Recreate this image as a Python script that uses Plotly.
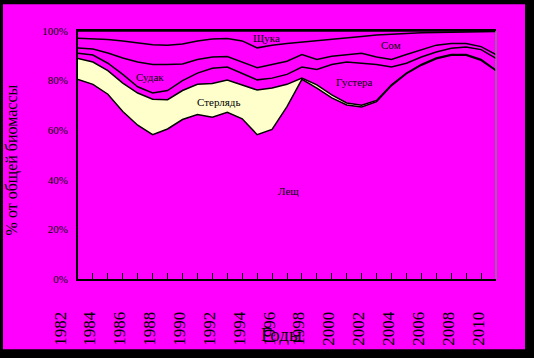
import plotly.graph_objects as go

years = list(range(1982, 2011))
tick_years = list(range(1982, 2011, 2))
tick_labels = [str(y) for y in tick_years]
y_ticks = [0, 20, 40, 60, 80, 100]
y_tick_labels = ["0%", "20%", "40%", "60%", "80%", "100%"]

lesch = [80.5, 78.5, 74.5, 67.5, 62.0, 58.2, 60.5, 64.3, 66.3, 65.2, 67.2, 64.6, 58.2, 60.3, 69.5,
         80.5, 77.0, 73.0, 70.2, 69.4, 71.5, 78.0, 82.8, 86.2, 88.8, 90.2, 90.2, 88.2, 84.0]
sterlyad = [8.4, 9.0, 9.5, 11.5, 13.0, 14.3, 11.8, 11.7, 12.2, 13.6, 13.0, 13.6, 18.0, 16.7, 9.0,
            0.5, 1.3, 1.2, 0.8, 0.7, 0.5, 0.3, 0.2, 0.3, 0.3, 0.3, 0.3, 0.3, 0.2]
gustera = [2.1, 2.8, 3.0, 3.5, 2.5, 2.5, 3.7, 4.0, 4.5, 6.2, 5.3, 4.8, 4.1, 4.0, 4.0,
           4.5, 6.2, 12.3, 16.5, 16.9, 14.5, 7.2, 4.0, 3.0, 2.4, 2.5, 3.0, 4.0, 4.8]
sudak = [2.1, 2.4, 4.1, 6.6, 10.0, 11.5, 10.5, 6.7, 5.5, 4.5, 4.2, 4.3, 4.9, 5.5, 5.3,
         5.0, 4.0, 3.3, 3.0, 4.0, 3.0, 3.0, 3.5, 3.0, 2.8, 2.0, 1.5, 1.2, 1.5]
som = [4.0, 4.2, 5.5, 6.9, 7.7, 8.0, 7.8, 8.1, 7.5, 7.3, 7.3, 8.7, 8.0, 7.8, 7.2,
       5.0, 7.5, 6.9, 6.7, 6.8, 8.9, 10.3, 8.7, 6.8, 5.1, 4.5, 4.7, 6.1, 9.3]
schuka = [2.9, 3.1, 3.4, 4.0, 4.8, 5.5, 5.7, 5.2, 4.0, 3.2, 3.0, 4.0, 6.8, 5.7, 5.0,
          4.5, 4.0, 3.3, 2.8, 2.2, 1.6, 1.2, 0.8, 0.7, 0.6, 0.5, 0.3, 0.2, 0.2]

series = [("Лещ", lesch, "#FF00FF"), ("Стерлядь", sterlyad, "#FFFFCC"),
          ("Густера", gustera, "#FF00FF"), ("Судак", sudak, "#FF00FF"),
          ("Сом", som, "#FF00FF"), ("Щука", schuka, "#FF00FF")]

MAG = "#FF00FF"
SERIF = "Liberation Serif, Times New Roman, serif"

fig = go.Figure()
for name, vals, col in series:
    fig.add_trace(go.Scatter(x=years, y=vals, name=name, mode="lines", stackgroup="one",
                             line=dict(color="black", width=1.5), fillcolor=col,
                             hoverinfo="skip"))

# plot area in pixels: x 78..496, y 31..282
L, R, T, B = 78, 496, 31, 282
W, H = 534, 358
def px(x):
    return (x - L) / (R - L)
def py(y):
    return (B - y) / (B - T)

shapes = [
    dict(type="rect", xref="paper", yref="paper", x0=px(3), x1=px(525), y0=py(353), y1=py(4),
         fillcolor=MAG, line=dict(width=0), layer="below"),
    dict(type="line", xref="paper", yref="paper", x0=1, x1=1, y0=0, y1=1,
         line=dict(color="#808080", width=1.5)),
]

labels = [("Щука", 266, 38), ("Сом", 391, 45), ("Судак", 150, 78), ("Стерлядь", 218, 103),
          ("Густера", 354, 83), ("Лещ", 288, 193)]
annotations = [dict(text=t, x=px(x), y=py(y), xref="paper", yref="paper", showarrow=False,
                    xanchor="center", yanchor="middle",
                    font=dict(family=SERIF, size=11, color="black")) for t, x, y in labels]
annotations.append(dict(text="Годы", x=px(281), y=py(338), xref="paper", yref="paper",
                        showarrow=False, xanchor="center", yanchor="middle",
                        font=dict(family=SERIF, size=19, color="black")))
annotations.append(dict(text="% от общей биомассы", x=px(12), y=py(162), xref="paper", yref="paper",
                        showarrow=False, textangle=-90, xanchor="center", yanchor="middle",
                        font=dict(family=SERIF, size=16, color="black")))

fig.update_layout(
    width=W, height=H,
    margin=dict(l=L, r=W - R, t=T, b=H - B, pad=0),
    paper_bgcolor="black", plot_bgcolor=MAG,
    showlegend=False,
    shapes=shapes, annotations=annotations,
    xaxis=dict(range=[1982, 2010], tickvals=tick_years, ticktext=tick_labels,
               tickangle=-90, ticks="inside", ticklen=6, tickcolor="black", tickwidth=1,
               showgrid=False, zeroline=False, showline=True, linecolor="black", linewidth=2,
               mirror=True, ticklabelstandoff=24, ticklabelshift=-18,
               minor=dict(dtick=1, tick0=1982, ticks="inside", ticklen=6, tickcolor="black", showgrid=False),
               tickfont=dict(family=SERIF, size=17, color="black")),
    yaxis=dict(range=[0, 100], tickvals=y_ticks, ticktext=y_tick_labels,
               showgrid=True, gridcolor="black", gridwidth=1, zeroline=False,
               showline=True, linecolor="black", linewidth=2, ticks="",
               ticklabelstandoff=6,
               tickfont=dict(family=SERIF, size=11, color="black")),
)

fig.write_html("out.html", config={"displayModeBar": False},
               post_script="document.body.style.margin='0';document.body.style.background='black';")
